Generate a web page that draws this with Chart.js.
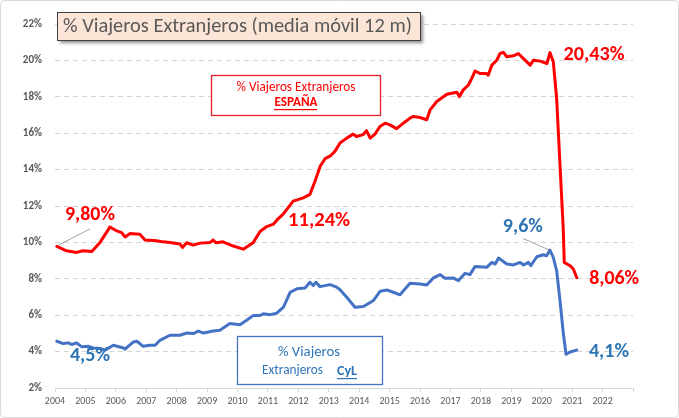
<!DOCTYPE html>
<html><head><meta charset="utf-8">
<script src="https://cdn.jsdelivr.net/npm/chart.js@4.4.1/dist/chart.umd.min.js"></script>
<style>html,body{margin:0;padding:0;background:#fff;}#wrap{width:679px;height:418px;}</style>
</head><body><div id="wrap"><canvas id="c" width="679" height="418"></canvas></div>
<script>
// ---- data (decimal year, % viajeros extranjeros, media móvil 12 m) ----
const spainYears = [2004.06,2004.38,2004.71,2004.92,2005.21,2005.48,2005.81,2006.03,2006.19,2006.30,2006.47,2006.79,2006.96,2007.34,2007.55,2007.78,2008.11,2008.19,2008.33,2008.54,2008.77,2009.10,2009.20,2009.30,2009.52,2009.86,2010.19,2010.52,2010.74,2010.96,2011.18,2011.29,2011.50,2011.83,2012.16,2012.38,2012.55,2012.72,2012.88,2013.05,2013.20,2013.37,2013.59,2013.80,2013.91,2014.13,2014.24,2014.36,2014.52,2014.68,2014.85,2015.01,2015.23,2015.45,2015.67,2015.78,2016.00,2016.22,2016.33,2016.55,2016.88,2017.21,2017.29,2017.42,2017.59,2017.70,2017.81,2017.97,2018.19,2018.24,2018.36,2018.52,2018.63,2018.74,2018.85,2019.07,2019.23,2019.40,2019.62,2019.73,2019.95,2020.17,2020.27,2020.38,2020.49,2020.60,2020.71,2020.74,2020.93,2021.04,2021.15];
const spainValues = [9.78,9.54,9.45,9.54,9.50,10.00,10.85,10.63,10.54,10.30,10.49,10.45,10.13,10.09,10.03,10.00,9.91,9.72,9.98,9.85,9.96,10.00,10.13,9.98,10.03,9.80,9.63,10.00,10.60,10.87,11.00,11.22,11.55,12.27,12.45,12.64,13.37,14.20,14.60,14.75,15.00,15.46,15.73,15.95,15.82,15.92,16.14,15.73,15.95,16.37,16.55,16.46,16.25,16.55,16.83,16.92,16.86,16.74,17.28,17.74,18.14,18.25,18.01,18.38,18.65,19.01,19.42,19.28,19.28,19.19,19.74,20.01,20.38,20.44,20.20,20.25,20.38,20.10,19.74,20.01,19.96,19.83,20.43,19.92,17.92,14.28,10.63,8.90,8.72,8.54,8.06];
const cylYears = [2004.06,2004.27,2004.44,2004.55,2004.71,2004.88,2005.10,2005.26,2005.48,2005.64,2005.92,2006.25,2006.30,2006.58,2006.69,2006.90,2007.12,2007.29,2007.45,2007.78,2008.11,2008.33,2008.55,2008.71,2008.88,2009.20,2009.42,2009.75,2010.08,2010.30,2010.52,2010.74,2010.85,2011.07,2011.29,2011.51,2011.73,2011.95,2012.22,2012.38,2012.49,2012.58,2012.71,2013.04,2013.26,2013.37,2013.59,2013.86,2014.14,2014.25,2014.47,2014.69,2014.91,2015.12,2015.34,2015.67,2016.00,2016.22,2016.44,2016.66,2016.82,2017.09,2017.26,2017.48,2017.64,2017.81,2018.19,2018.36,2018.47,2018.58,2018.85,2019.07,2019.29,2019.40,2019.56,2019.64,2019.84,2020.05,2020.16,2020.27,2020.38,2020.49,2020.60,2020.71,2020.80,2020.93,2021.15];
const cylValues = [4.57,4.44,4.48,4.39,4.48,4.26,4.29,4.20,4.17,4.08,4.35,4.20,4.13,4.53,4.57,4.29,4.35,4.35,4.62,4.90,4.90,5.02,4.99,5.13,5.02,5.13,5.17,5.54,5.48,5.72,5.99,5.99,6.08,6.03,6.11,6.44,7.26,7.45,7.50,7.81,7.63,7.81,7.57,7.68,7.54,7.40,6.99,6.44,6.48,6.59,6.81,7.32,7.39,7.26,7.12,7.75,7.72,7.66,8.05,8.23,8.03,8.05,7.90,8.30,8.23,8.68,8.63,8.90,8.81,9.14,8.81,8.76,8.90,8.76,8.90,8.72,9.21,9.32,9.27,9.58,9.17,8.45,6.81,4.99,3.85,3.98,4.08];
const yearLabels = ['2004','2005','2006','2007','2008','2009','2010','2011','2012','2013','2014','2015','2016','2017','2018','2019','2020','2021','2022'];
const yTickValues = [2,4,6,8,10,12,14,16,18,20,22];

const titleText = '% Viajeros Extranjeros (media móvil 12 m)';
const spainBoxLines = ['% Viajeros Extranjeros', 'ESPAÑA'];
const cylBoxLines = ['% Viajeros', 'Extranjeros', 'CyL'];
// value labels: text, anchor (year, value), colour key
const valueLabels = [
  {text:'9,80%',  x:2005.15, y:11.51, w:50, c:'red'},
  {text:'11,24%', x:2012.68, y:11.18, w:62, c:'red'},
  {text:'20,43%', x:2021.72, y:20.31, w:61, c:'red'},
  {text:'8,06%',  x:2022.38, y:8.01,  w:50, c:'red'},
  {text:'4,5%',   x:2005.15, y:3.75,  w:40, c:'blue'},
  {text:'9,6%',   x:2019.38, y:10.85, w:40, c:'blue'},
  {text:'4,1%',   x:2022.21, y:3.97,  w:40, c:'blue'}
];
const leaders = [
  {x1:2004.07, y1:9.81, x2:2005.15, y2:10.74},
  {x1:2019.39, y1:10.21, x2:2020.25, y2:9.58}
];

const FONT = "Carlito, Lato, 'Open Sans', sans-serif";
const RED = '#FF0000', BLUE_LINE = '#4472C4', BLUE_TEXT = '#2E75B6', GRAY = '#595959';

function fitFont(ctx, text, weight, target, base) {
  ctx.font = weight + ' ' + base + 'px ' + FONT;
  const w = ctx.measureText(text).width;
  const size = base * target / w;
  ctx.font = weight + ' ' + size.toFixed(2) + 'px ' + FONT;
  return size;
}

const decor = {
  id: 'decor',
  afterDraw(chart) {
    const ctx = chart.ctx, xs = chart.scales.x, ys = chart.scales.y;
    ctx.save();
    // outer border
    ctx.strokeStyle = '#D9D9D9'; ctx.lineWidth = 1;
    ctx.beginPath(); ctx.roundRect(0.5, 0.5, 678, 417, 4); ctx.stroke();

    // title box
    ctx.save();
    ctx.shadowColor = 'rgba(0,0,0,0.45)'; ctx.shadowOffsetX = 3; ctx.shadowOffsetY = 3; ctx.shadowBlur = 3;
    ctx.fillStyle = '#FBE5D6';
    ctx.fillRect(57, 12, 363, 28);
    ctx.restore();
    ctx.strokeStyle = '#404040'; ctx.lineWidth = 1;
    ctx.strokeRect(57.5, 12.5, 363, 28);
    fitFont(ctx, titleText, 'normal', 349, 18);
    ctx.fillStyle = GRAY; ctx.textAlign = 'left'; ctx.textBaseline = 'middle';
    ctx.fillText(titleText, 63, 27);

    // Spain box
    ctx.fillStyle = '#fff'; ctx.fillRect(211, 75, 170, 40);
    ctx.strokeStyle = '#E0202A'; ctx.lineWidth = 1.3;
    ctx.strokeRect(211.5, 75.5, 169, 40);
    ctx.fillStyle = RED; ctx.textAlign = 'center';
    fitFont(ctx, spainBoxLines[0], 'normal', 119, 13);
    ctx.fillText(spainBoxLines[0], 296, 88);
    fitFont(ctx, spainBoxLines[1], 'bold', 43, 12);
    ctx.fillText(spainBoxLines[1], 296, 103);
    ctx.fillRect(274, 109, 43, 1.2);

    // CyL box
    ctx.fillStyle = '#fff'; ctx.fillRect(237, 336, 145, 48);
    ctx.strokeStyle = BLUE_LINE; ctx.lineWidth = 1.3;
    ctx.strokeRect(237.5, 336.5, 145, 48);
    ctx.fillStyle = BLUE_TEXT; ctx.textAlign = 'center';
    fitFont(ctx, cylBoxLines[0], 'normal', 62, 14);
    ctx.fillText(cylBoxLines[0], 309, 352);
    ctx.textAlign = 'left';
    fitFont(ctx, cylBoxLines[1], 'normal', 61, 14);
    ctx.fillText(cylBoxLines[1], 262, 371);
    fitFont(ctx, cylBoxLines[2], 'bold', 20, 14);
    ctx.fillText(cylBoxLines[2], 337, 371);
    ctx.fillRect(337, 378, 20, 1.2);

    // leader lines
    ctx.strokeStyle = '#8C8C8C'; ctx.lineWidth = 0.8;
    leaders.forEach(l => {
      ctx.beginPath();
      ctx.moveTo(xs.getPixelForValue(l.x1), ys.getPixelForValue(l.y1));
      ctx.lineTo(xs.getPixelForValue(l.x2), ys.getPixelForValue(l.y2));
      ctx.stroke();
    });
    // value labels
    ctx.textAlign = 'center'; ctx.textBaseline = 'middle';
    valueLabels.forEach(v => {
      fitFont(ctx, v.text, 'bold', v.w, 19);
      ctx.fillStyle = v.c === 'red' ? RED : BLUE_TEXT;
      ctx.fillText(v.text, xs.getPixelForValue(v.x), ys.getPixelForValue(v.y));
    });
    ctx.restore();
  }
};

new Chart(document.getElementById('c'), {
  type: 'line',
  data: {
    datasets: [
      {label:'% Viajeros Extranjeros ESPAÑA', data: spainYears.map((x,i)=>({x, y: spainValues[i]})),
       borderColor: RED, borderWidth: 3, pointRadius: 0, tension: 0, borderJoinStyle:'round', borderCapStyle:'round', fill:false},
      {label:'% Viajeros Extranjeros CyL', data: cylYears.map((x,i)=>({x, y: cylValues[i]})),
       borderColor: BLUE_LINE, borderWidth: 3, pointRadius: 0, tension: 0, borderJoinStyle:'round', borderCapStyle:'round', fill:false}
    ]
  },
  options: {
    responsive: false, devicePixelRatio: 1, animation: false,
    layout: {padding: {left: 0, right: 46, top: 24, bottom: 0}},
    plugins: {legend: {display: false}, tooltip: {enabled: false}},
    scales: {
      x: {
        type: 'linear', min: 2004, max: 2023,
        afterBuildTicks(s) { s.ticks = []; for (let y = 2004; y <= 2023; y++) s.ticks.push({value: y}); },
        afterFit(s) { s.height = 30; },
        grid: {drawOnChartArea: false, drawTicks: true, tickLength: 4, color: '#D9D9D9'},
        border: {display: true, color: '#D9D9D9'},
        ticks: {autoSkip: false, maxRotation: 0, padding: 3, color: GRAY,
          font: {family: FONT, size: 10},
          callback: (v) => yearLabels.includes(String(v)) ? String(v) : ''}
      },
      y: {
        min: 2, max: 22,
        afterBuildTicks(s) { s.ticks = yTickValues.map(v => ({value: v})); },
        afterFit(s) { s.width = 55; },
        grid: {drawTicks: false, color: (c) => c.tick && c.tick.value === 2 ? 'rgba(0,0,0,0)' : '#D4D4D4', lineWidth: 1},
        border: {display: false, dash: [5,4]},
        ticks: {padding: 13, color: GRAY, font: {family: FONT, size: 11, weight: 'bold'},
          callback: (v) => v + '%'}
      }
    }
  },
  plugins: [decor]
});
</script></body></html>
